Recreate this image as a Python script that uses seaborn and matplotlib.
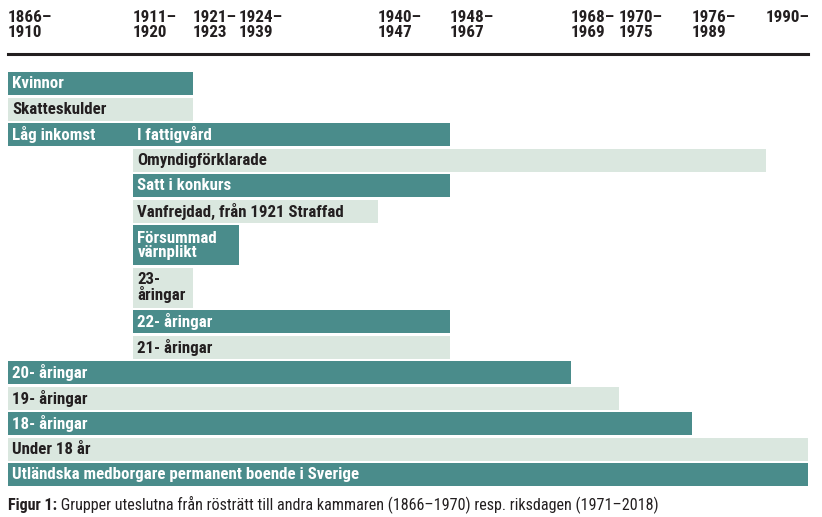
import matplotlib
matplotlib.use("Agg")
import matplotlib.pyplot as plt
from matplotlib import font_manager as fm
import seaborn as sns
import numpy as np

# ---- data ----
periods = ["1866–\n1910", "1911–\n1920", "1921–\n1923", "1924–\n1939", "1940–\n1947",
           "1948–\n1967", "1968–\n1969", "1970–\n1975", "1976–\n1989", "1990–\n "]
groups = ["Kvinnor", "Skatteskulder", "Låg inkomst", "I fattigvård", "Omyndigförklarade",
          "Satt i konkurs", "Vanfrejdad, från 1921 Straffad", "Försummad\nvärnplikt",
          "23-\nåringar", "22- åringar", "21- åringar", "20- åringar", "19- åringar",
          "18- åringar", "Under 18 år", "Utländska medborgare permanent boende i Sverige"]
group_row = [0, 1, 2, 2, 3, 4, 5, 6, 7, 8, 9, 10, 11, 12, 13, 14]
start_period = [0, 0, 0, 1, 1, 1, 1, 1, 1, 1, 1, 0, 0, 0, 0, 0]
end_period = [2, 2, 1, 5, 9, 5, 4, 3, 2, 5, 5, 6, 7, 8, 10, 10]   # exclusive
row_tall = [0, 0, 0, 0, 0, 0, 1, 1, 0, 0, 0, 0, 0, 0, 0]
caption_bold = "Figur 1:"
caption_rest = " Grupper uteslutna från rösträtt till andra kammaren (1866–1970) resp. riksdagen (1971–2018)"

# ---- layout ----
col_widths = [125, 60, 46, 139, 72, 121, 48, 73, 74, 42]
TEAL = "#4A8C8B"
LIGHT = "#DAE7DF"
DARK = "#231F20"
tall_h = 1.667
gap = 0.09

sns.set_theme(style="white")
plt.rcParams["font.family"] = ["DejaVu Sans"]


def pick_font(bold):
    want = 700 if bold else 400
    fl = fm.fontManager.ttflist

    def wnum(f):
        w = f.weight
        if isinstance(w, str):
            return {"bold": 700, "normal": 400, "regular": 400, "book": 400,
                    "semibold": 600, "medium": 500, "light": 300}.get(w.lower(), 400)
        return w

    prefs = ["Roboto Condensed", "Liberation Sans Narrow", "Open Sans Condensed",
             "Noto Sans", "DejaVu Sans"]
    for name in prefs:
        cands = [f for f in fl if f.name == name and f.style == "normal"
                 and (("Condensed" in name or "Narrow" in name) or
                      str(f.stretch) in ("condensed", "semi-condensed", "extra-condensed"))]
        cands = [f for f in cands if abs(wnum(f) - want) <= 100]
        if cands:
            cands.sort(key=lambda f: abs(wnum(f) - want))
            return fm.FontProperties(fname=cands[0].fname), name
    for name in ["Roboto", "Lato"]:
        cands = [f for f in fl if f.name == name and f.style == "normal"
                 and str(f.stretch) == "normal"]
        if cands:
            cands.sort(key=lambda f: abs(wnum(f) - want))
            return fm.FontProperties(fname=cands[0].fname), name
    return fm.FontProperties(weight="bold" if bold else "normal"), "default"


FB, fb_name = pick_font(True)
FR, fr_name = pick_font(False)
condensed = fb_name not in ("Roboto", "Lato", "default")
scale = 1.0 if condensed else 0.88


def fp(base, size):
    p = base.copy()
    p.set_size(size * scale)
    return p


edges = np.concatenate([[0], np.cumsum(col_widths)])
row_h = np.array([tall_h if t else 1.0 for t in row_tall])
row_top = np.concatenate([[0], np.cumsum(row_h)])[:-1]
total = row_h.sum()

W, H = 822, 517
fig = plt.figure(figsize=(W / 100, H / 100), dpi=100)
fig.patch.set_facecolor("white")
ax_top_px, ax_bot_px = 72, 72 + total * 25.5
ax = fig.add_axes([8 / W, 1 - ax_bot_px / H, edges[-1] / W, (ax_bot_px - ax_top_px) / H])
ax.set_xlim(0, edges[-1])
ax.set_ylim(total, 0)

for i, g in enumerate(groups):
    r = group_row[i]
    x0 = edges[start_period[i]]
    x1 = edges[end_period[i]]
    color = TEAL if r % 2 == 0 else LIGHT
    txtc = "white" if r % 2 == 0 else DARK
    h = row_h[r] - gap
    yc = row_top[r] + h / 2
    ax.barh(yc, x1 - x0, left=x0, height=h, color=color, edgecolor="none", linewidth=0)
    ax.annotate(g, xy=(x0, yc), xytext=(3.2, 0), textcoords="offset points",
                ha="left", va="center", fontproperties=fp(FB, 12.2),
                color=txtc, linespacing=0.92)

# axis frame: only the top rule
ax.set_yticks([])
for s in ["left", "right", "bottom"]:
    ax.spines[s].set_visible(False)
ax.spines["top"].set_position(("outward", 13.3))
ax.spines["top"].set_linewidth(2.2)
ax.spines["top"].set_color(DARK)
ax.set_facecolor("white")

# top axis with period labels (after spine positioning, which resets ticks)
ax.xaxis.tick_top()
ax.set_xticks(edges[:-1])
ax.set_xticklabels(periods)
ax.tick_params(axis="x", length=0, pad=9.5)
for lab in ax.xaxis.get_ticklabels(which="major") + \
        [t.label2 for t in ax.xaxis.get_major_ticks()]:
    lab.set_fontproperties(fp(FB, 12.3))
    lab.set_color(DARK)
    lab.set_ha("left")
    lab.set_multialignment("left")
    lab.set_linespacing(1.0)

t1 = fig.text(8 / W, 1 - 510 / H, caption_bold, fontproperties=fp(FB, 11.6),
              color=DARK, va="baseline", ha="left")
fig.canvas.draw()
ax.annotate(caption_rest, xy=(1, 0), xycoords=t1, va="bottom", ha="left",
            fontproperties=fp(FR, 11.6), color=DARK, annotation_clip=False)

fig.savefig("out.png", dpi=100, facecolor="white")
